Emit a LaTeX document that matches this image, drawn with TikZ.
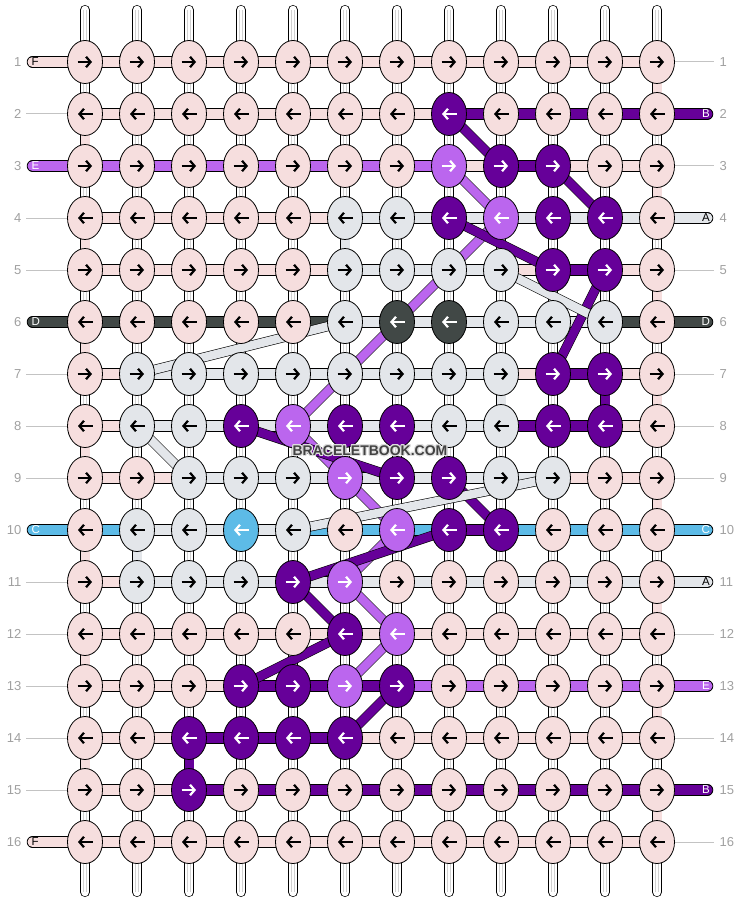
\documentclass[tikz,border=0pt]{standalone}
\usepackage{fontspec}
\setmainfont{Liberation Sans}
\usepackage{contour}
\contourlength{0.9pt}
\contournumber{24}
\usetikzlibrary{shapes.geometric, arrows.meta, positioning}
\definecolor{colP}{RGB}{246,222,222}
\definecolor{colB}{RGB}{102,0,153}
\definecolor{colE}{RGB}{187,102,238}
\definecolor{colA}{RGB}{227,230,234}
\definecolor{colD}{RGB}{65,72,70}
\definecolor{colC}{RGB}{93,187,231}
\colorlet{fgP}{black}
\colorlet{fgA}{black}
\colorlet{fgB}{white}
\colorlet{fgE}{white}
\colorlet{fgD}{white}
\colorlet{fgC}{white}
\definecolor{numgray}{RGB}{160,160,160}
\definecolor{endgray}{RGB}{195,195,195}
\definecolor{markgray}{RGB}{66,66,66}
\definecolor{haloGray}{RGB}{222,222,222}
\pgfdeclarelayer{strips}
\pgfdeclarelayer{strands}
\pgfdeclarelayer{diags}
\pgfsetlayers{strips,strands,diags,main}
\tikzset{
    knotnode/.style = {draw, ellipse, line width=0.8pt, minimum width=35pt, minimum height=43pt, inner sep=0pt},
    arrowline/.style = {line width=2.2pt, -{Straight Barb[length=4.5pt, width=10.5pt]}},
    segline/.style = {draw=black, line width=0.75pt, double distance=10pt},
    linkline/.style = {draw=black, line width=0.75pt, double distance=9pt},
    diagline/.style = {draw=black, line width=0.6pt, double distance=8.6pt},
    pillline/.style = {segline, line cap=round},
    stripline/.style = {draw=black, line width=0.7pt, double=white, double distance=8.6pt, line cap=round},
    threadline/.style = {draw=black!18, line width=0.5pt},
    endline/.style = {draw=endgray, line width=1pt},
    rownumnode/.style = {inner sep=0pt, text=numgray, font=\fontsize{13}{13}\selectfont},
    pilltextnode/.style = {inner sep=0pt, font=\fontsize{11.5}{11.5}\selectfont},
    marknode/.style = {inner sep=0pt, text=markgray, font=\bfseries\fontsize{14}{14}\selectfont}
}

\begin{document}
\begin{tikzpicture}[x=1pt, y=-1pt]
\useasboundingbox (0,0) rectangle (740,904);

% knots
\foreach \rw/\row in {
  1/{P,P,P,P,P,P,P,P,P,P,P,P},
  2/{P,P,P,P,P,P,P,B,P,P,P,P},
  3/{P,P,P,P,P,P,P,E,B,B,P,P},
  4/{P,P,P,P,P,A,A,B,E,B,B,P},
  5/{P,P,P,P,P,A,A,A,A,B,B,P},
  6/{P,P,P,P,P,A,D,D,A,A,A,P},
  7/{P,A,A,A,A,A,A,A,A,B,B,P},
  8/{P,A,A,B,E,B,B,A,A,B,B,P},
  9/{P,P,A,A,A,E,B,B,A,A,P,P},
  10/{P,A,A,C,A,P,E,B,B,P,P,P},
  11/{P,A,A,A,B,E,P,P,P,P,P,P},
  12/{P,P,P,P,P,B,E,P,P,P,P,P},
  13/{P,P,P,B,B,E,B,P,P,P,P,P},
  14/{P,P,B,B,B,B,P,P,P,P,P,P},
  15/{P,P,B,P,P,P,P,P,P,P,P,P},
  16/{P,P,P,P,P,P,P,P,P,P,P,P}} {
  \foreach \k [count=\cl from 0] in \row {
    \node[knotnode, fill=col\k] (k-\rw-\cl) at (85+52*\cl, 10+52*\rw) {};
    \ifodd\rw
      \draw[arrowline, draw=fg\k] ([xshift=-7.5pt]k-\rw-\cl.center) -- ([xshift=7pt]k-\rw-\cl.center);
    \else
      \draw[arrowline, draw=fg\k] ([xshift=7.5pt]k-\rw-\cl.center) -- ([xshift=-7pt]k-\rw-\cl.center);
    \fi
  }
  \node[rownumnode, anchor=east] (ln-\rw) at (21.5, 10+52*\rw) {\rw};
  \node[rownumnode, anchor=west] (rn-\rw) at (719.5, 10+52*\rw) {\rw};
}

% warp threads
\foreach \cl in {0,...,11} {
  \coordinate (top-\cl) at (85+52*\cl, 10);
  \coordinate (bot-\cl) at (85+52*\cl, 892);
  \begin{pgfonlayer}{strips}
    \draw[stripline] (top-\cl) -- (bot-\cl);
    \draw[threadline] ([xshift=-1.4pt]top-\cl) -- ([xshift=-1.4pt]bot-\cl);
    \draw[threadline] ([xshift=1.4pt]top-\cl) -- ([xshift=1.4pt]bot-\cl);
  \end{pgfonlayer}
}

\begin{pgfonlayer}{strands}
\foreach \rw/\segs in {
  1/{P,P,P,P,P,P,P,P,P,P,P},
  2/{P,P,P,P,P,P,P,B,B,B,B},
  3/{E,E,E,E,E,E,E,P,B,P,P},
  4/{P,P,P,P,P,A,A,A,A,A,A},
  5/{P,P,P,P,P,A,A,A,P,B,P},
  6/{D,D,D,D,D,A,A,A,A,A,D},
  7/{P,A,A,A,A,A,A,A,P,B,P},
  8/{P,A,A,A,A,A,A,A,B,B,P},
  9/{P,P,A,A,A,A,A,A,A,P,P},
  10/{C,A,A,A,C,C,C,B,C,C,C},
  11/{P,A,A,A,A,A,A,A,A,A,A},
  12/{P,P,P,P,P,P,P,P,P,P,P},
  13/{P,P,P,B,B,B,E,E,E,E,E},
  14/{P,P,B,B,B,P,P,P,P,P,P},
  15/{P,P,B,B,B,B,B,B,B,B,B},
  16/{P,P,P,P,P,P,P,P,P,P,P}} {
  \foreach \s [count=\cl from 0] in \segs {
    \pgfmathtruncatemacro\nx{\cl+1}
    \draw[segline, double=col\s] (k-\rw-\cl.center) -- (k-\rw-\nx.center);
  }
}
\foreach \rw/\cl/\s in {1/11/P, 2/0/P, 3/11/P, 4/0/P, 4/5/A, 5/11/P, 6/0/P, 7/11/P, 7/10/B, 7/8/A,
    8/0/P, 9/11/P, 10/0/P, 10/1/A, 11/11/P, 12/0/P, 13/11/P, 14/0/P, 14/2/B, 15/11/P} {
  \pgfmathtruncatemacro\nr{\rw+1}
  \draw[linkline, double=col\s] (k-\rw-\cl.center) -- (k-\nr-\cl.center);
}
\foreach \rw in {2,4,5,7,8,9,11,12,13,14,15}
  \draw[endline] ([xshift=4.5pt]ln-\rw.east) -- (k-\rw-0.west);
\foreach \rw in {1,3,5,7,8,9,12,14,16}
  \draw[endline] (k-\rw-11.east) -- ([xshift=-5.5pt]rn-\rw.west);
\end{pgfonlayer}

% colour ends
\foreach \rw/\s/\lab in {1/P/F, 3/E/E, 6/D/D, 10/C/C, 16/P/F} {
  \coordinate (lend-\rw) at (32.5, 10+52*\rw);
  \begin{pgfonlayer}{strands}
    \draw[pillline, double=col\s] (lend-\rw) -- (k-\rw-0.center);
  \end{pgfonlayer}
  \node[pilltextnode, text=fg\s, right=-1pt of lend-\rw] (lt-\rw) {\lab};
}
\foreach \rw/\s/\lab in {2/B/B, 4/A/A, 6/D/D, 10/C/C, 11/A/A, 13/E/E, 15/B/B} {
  \coordinate (rend-\rw) at (707.5, 10+52*\rw);
  \begin{pgfonlayer}{strands}
    \draw[pillline, double=col\s] (k-\rw-11.center) -- (rend-\rw);
  \end{pgfonlayer}
  \node[pilltextnode, text=fg\s, left=-2.5pt of rend-\rw] (rt-\rw) {\lab};
}

% carried threads
\begin{pgfonlayer}{diags}
\foreach \s/\ra/\ca/\rb/\cb in {
    E/3/7/4/8, E/4/8/8/4, E/8/4/9/5, E/9/5/10/6, E/10/6/11/5, E/11/5/12/6, E/12/6/13/5,
    B/2/7/3/8, B/3/9/4/10, B/4/7/5/9, B/5/10/7/9, B/8/3/9/6, B/9/7/10/8, B/10/7/11/4,
    B/11/4/12/5, B/12/5/13/3, B/13/6/14/5,
    A/5/8/6/10, A/6/5/7/1, A/8/1/9/2, A/9/9/10/4}
  \draw[diagline, double=col\s] (k-\ra-\ca.center) -- (k-\rb-\cb.center);
\end{pgfonlayer}

\node[marknode] (mark) at (370,451) {\contour{haloGray}{BRACELETBOOK.COM}};
\end{tikzpicture}
\end{document}
